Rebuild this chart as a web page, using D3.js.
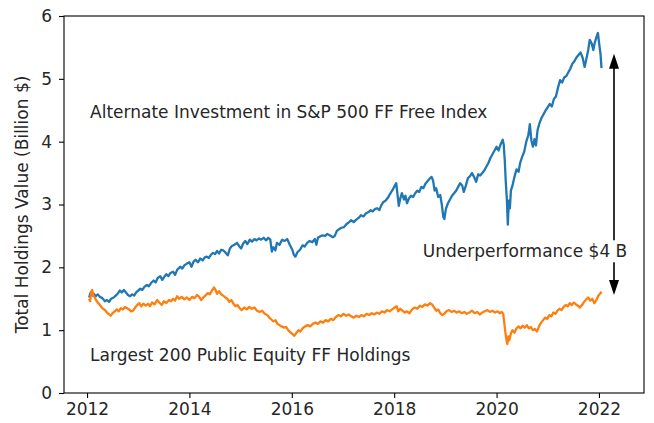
<!DOCTYPE html>
<html><head><meta charset="utf-8">
<script src="https://cdn.jsdelivr.net/npm/d3@7"></script>
<style>
html,body{margin:0;padding:0;background:#fff;}
svg text{font-family:"DejaVu Sans",sans-serif;fill:#262626;}
</style></head>
<body><svg id="c" width="654" height="423"></svg>
<script>
const xTicks = [2012, 2014, 2016, 2018, 2020, 2022];
const yTicks = [0, 1, 2, 3, 4, 5, 6];
const yLabel = "Total Holdings Value (Billion $)";
const seriesNames = ["Alternate Investment in S&P 500 FF Free Index", "Largest 200 Public Equity FF Holdings"];
const gapLabel = "Underperformance $4 B";

const blueYears = [2012.04,2012.07,2012.10,2012.13,2012.17,2012.21,2012.25,2012.30,2012.35,2012.39,2012.43,2012.47,2012.52,2012.56,2012.60,2012.64,2012.68,2012.72,2012.76,2012.80,2012.84,2012.88,2012.92,2012.96,2013.00,2013.04,2013.08,2013.12,2013.17,2013.21,2013.25,2013.30,2013.34,2013.38,2013.43,2013.47,2013.51,2013.55,2013.59,2013.63,2013.68,2013.72,2013.76,2013.82,2013.86,2013.90,2013.95,2014.00,2014.04,2014.08,2014.12,2014.17,2014.21,2014.26,2014.30,2014.34,2014.38,2014.42,2014.46,2014.50,2014.54,2014.58,2014.62,2014.66,2014.70,2014.75,2014.79,2014.83,2014.88,2014.93,2014.97,2015.01,2015.05,2015.09,2015.13,2015.18,2015.22,2015.27,2015.31,2015.36,2015.40,2015.45,2015.50,2015.54,2015.58,2015.61,2015.64,2015.68,2015.71,2015.76,2015.81,2015.86,2015.91,2015.96,2016.01,2016.04,2016.07,2016.11,2016.16,2016.21,2016.25,2016.30,2016.35,2016.40,2016.45,2016.48,2016.51,2016.55,2016.60,2016.65,2016.69,2016.74,2016.80,2016.84,2016.88,2016.93,2016.97,2017.02,2017.07,2017.12,2017.16,2017.21,2017.26,2017.31,2017.35,2017.40,2017.45,2017.50,2017.54,2017.58,2017.63,2017.67,2017.71,2017.75,2017.79,2017.83,2017.88,2017.92,2017.96,2018.00,2018.04,2018.07,2018.09,2018.12,2018.15,2018.19,2018.22,2018.25,2018.29,2018.33,2018.37,2018.41,2018.45,2018.49,2018.53,2018.57,2018.61,2018.65,2018.70,2018.73,2018.76,2018.79,2018.82,2018.86,2018.90,2018.93,2018.96,2018.98,2019.01,2019.05,2019.09,2019.13,2019.17,2019.21,2019.25,2019.29,2019.33,2019.36,2019.40,2019.44,2019.48,2019.52,2019.56,2019.60,2019.64,2019.68,2019.72,2019.76,2019.80,2019.84,2019.88,2019.92,2019.96,2020.00,2020.04,2020.08,2020.12,2020.14,2020.16,2020.18,2020.20,2020.22,2020.24,2020.26,2020.28,2020.31,2020.35,2020.39,2020.43,2020.46,2020.50,2020.54,2020.58,2020.62,2020.65,2020.68,2020.71,2020.74,2020.77,2020.80,2020.84,2020.88,2020.92,2020.96,2021.00,2021.04,2021.08,2021.12,2021.16,2021.20,2021.24,2021.28,2021.32,2021.36,2021.40,2021.44,2021.48,2021.52,2021.56,2021.60,2021.64,2021.68,2021.72,2021.75,2021.79,2021.82,2021.86,2021.89,2021.92,2021.95,2021.98,2022.01,2022.03,2022.05];
const blueValues = [1.52,1.60,1.55,1.58,1.54,1.57,1.53,1.51,1.46,1.48,1.45,1.50,1.52,1.55,1.58,1.63,1.60,1.64,1.60,1.56,1.54,1.57,1.55,1.60,1.63,1.66,1.64,1.69,1.72,1.70,1.75,1.79,1.76,1.83,1.86,1.80,1.85,1.89,1.86,1.91,1.93,1.88,1.96,2.01,1.98,2.03,2.06,2.08,2.01,2.09,2.12,2.08,2.14,2.11,2.16,2.17,2.15,2.20,2.23,2.21,2.26,2.22,2.28,2.27,2.24,2.19,2.30,2.34,2.36,2.39,2.34,2.30,2.38,2.42,2.37,2.44,2.41,2.45,2.43,2.46,2.44,2.47,2.43,2.47,2.44,2.25,2.32,2.27,2.39,2.36,2.44,2.42,2.45,2.36,2.28,2.20,2.17,2.24,2.28,2.35,2.33,2.39,2.42,2.40,2.45,2.36,2.47,2.49,2.51,2.50,2.53,2.51,2.48,2.50,2.58,2.61,2.63,2.64,2.69,2.72,2.75,2.72,2.76,2.79,2.83,2.81,2.86,2.88,2.91,2.89,2.93,2.94,2.91,2.99,3.04,3.06,3.11,3.17,3.22,3.28,3.34,3.12,2.98,3.10,3.18,3.08,3.14,3.02,3.10,3.14,3.12,3.18,3.22,3.20,3.28,3.26,3.33,3.37,3.42,3.44,3.38,3.22,3.26,3.12,3.15,3.00,2.80,2.77,2.93,3.02,3.08,3.14,3.18,3.22,3.28,3.34,3.30,3.20,3.30,3.42,3.45,3.50,3.44,3.36,3.48,3.46,3.50,3.54,3.60,3.66,3.74,3.80,3.86,3.92,3.86,3.96,4.03,3.95,3.70,3.36,3.10,2.68,3.06,2.94,3.22,3.30,3.44,3.56,3.52,3.66,3.76,3.84,4.00,4.10,4.28,4.02,3.92,4.04,3.94,4.18,4.30,4.38,4.44,4.50,4.55,4.60,4.56,4.68,4.72,4.86,4.98,4.94,5.02,5.04,5.10,5.16,5.24,5.28,5.34,5.38,5.42,5.34,5.19,5.30,5.46,5.62,5.56,5.46,5.58,5.66,5.73,5.52,5.40,5.17];

const orangeYears = [2012.04,2012.06,2012.08,2012.10,2012.12,2012.15,2012.19,2012.23,2012.27,2012.31,2012.35,2012.39,2012.43,2012.46,2012.50,2012.54,2012.58,2012.62,2012.66,2012.70,2012.74,2012.78,2012.82,2012.86,2012.90,2012.94,2012.98,2013.02,2013.06,2013.10,2013.15,2013.19,2013.23,2013.27,2013.32,2013.37,2013.41,2013.46,2013.50,2013.55,2013.60,2013.64,2013.68,2013.72,2013.76,2013.80,2013.85,2013.90,2013.95,2014.00,2014.05,2014.10,2014.15,2014.19,2014.23,2014.27,2014.31,2014.36,2014.40,2014.44,2014.48,2014.51,2014.54,2014.58,2014.62,2014.66,2014.70,2014.74,2014.78,2014.82,2014.86,2014.90,2014.94,2014.98,2015.02,2015.07,2015.12,2015.17,2015.22,2015.27,2015.32,2015.37,2015.42,2015.47,2015.52,2015.56,2015.60,2015.64,2015.68,2015.72,2015.76,2015.80,2015.85,2015.89,2015.93,2015.97,2016.01,2016.05,2016.09,2016.13,2016.17,2016.21,2016.26,2016.31,2016.36,2016.41,2016.46,2016.51,2016.56,2016.61,2016.66,2016.71,2016.76,2016.81,2016.86,2016.91,2016.96,2017.01,2017.06,2017.11,2017.16,2017.21,2017.26,2017.31,2017.36,2017.41,2017.46,2017.51,2017.56,2017.61,2017.66,2017.71,2017.76,2017.81,2017.86,2017.91,2017.96,2018.01,2018.05,2018.08,2018.12,2018.16,2018.21,2018.25,2018.30,2018.35,2018.40,2018.45,2018.50,2018.55,2018.60,2018.65,2018.70,2018.74,2018.78,2018.82,2018.86,2018.90,2018.94,2018.98,2019.02,2019.07,2019.12,2019.17,2019.22,2019.27,2019.32,2019.37,2019.42,2019.47,2019.52,2019.57,2019.62,2019.67,2019.72,2019.77,2019.82,2019.87,2019.92,2019.97,2020.02,2020.06,2020.10,2020.13,2020.15,2020.17,2020.19,2020.21,2020.23,2020.25,2020.28,2020.31,2020.35,2020.39,2020.43,2020.47,2020.51,2020.55,2020.59,2020.63,2020.67,2020.71,2020.75,2020.79,2020.83,2020.87,2020.91,2020.95,2020.99,2021.03,2021.07,2021.11,2021.15,2021.19,2021.23,2021.27,2021.31,2021.35,2021.39,2021.43,2021.47,2021.51,2021.55,2021.59,2021.63,2021.67,2021.71,2021.75,2021.79,2021.83,2021.87,2021.91,2021.95,2021.99,2022.02,2022.05];
const orangeValues = [1.50,1.46,1.60,1.64,1.56,1.52,1.46,1.42,1.38,1.34,1.32,1.28,1.25,1.23,1.27,1.30,1.33,1.30,1.35,1.33,1.37,1.35,1.33,1.30,1.31,1.36,1.40,1.43,1.38,1.42,1.39,1.42,1.38,1.44,1.41,1.48,1.44,1.40,1.46,1.43,1.48,1.46,1.50,1.47,1.54,1.50,1.53,1.49,1.52,1.48,1.53,1.51,1.56,1.53,1.48,1.52,1.55,1.59,1.57,1.63,1.68,1.64,1.58,1.62,1.57,1.55,1.52,1.50,1.45,1.48,1.42,1.38,1.40,1.35,1.32,1.36,1.33,1.37,1.34,1.36,1.31,1.29,1.31,1.26,1.24,1.20,1.17,1.14,1.16,1.10,1.08,1.06,1.04,1.05,1.00,0.97,0.94,0.91,0.96,1.00,0.98,1.03,1.06,1.08,1.06,1.10,1.12,1.10,1.14,1.12,1.16,1.14,1.18,1.16,1.21,1.24,1.22,1.26,1.23,1.25,1.22,1.20,1.23,1.21,1.24,1.22,1.26,1.24,1.27,1.25,1.28,1.26,1.30,1.28,1.32,1.30,1.33,1.36,1.38,1.30,1.34,1.31,1.28,1.30,1.27,1.33,1.36,1.34,1.39,1.37,1.41,1.39,1.43,1.41,1.36,1.31,1.33,1.27,1.24,1.26,1.30,1.32,1.29,1.31,1.28,1.30,1.27,1.29,1.26,1.28,1.31,1.27,1.29,1.25,1.28,1.30,1.32,1.29,1.31,1.28,1.30,1.27,1.29,1.26,1.12,0.98,0.86,0.78,0.90,0.84,0.95,1.00,0.96,1.03,1.06,1.03,1.07,1.04,1.08,1.03,1.05,1.00,1.02,0.98,1.06,1.12,1.16,1.20,1.18,1.24,1.22,1.28,1.26,1.31,1.34,1.32,1.37,1.40,1.38,1.43,1.40,1.44,1.41,1.39,1.36,1.40,1.45,1.49,1.52,1.47,1.50,1.43,1.48,1.55,1.58,1.61];

// annotation anchors in data units
const labelAnchors = [[2012.06, 4.38], [2012.06, 0.51]];
const gapAnchor = [2018.56, 2.16];
const arrowX = 2022.3, arrowLow = 1.56, arrowHigh = 5.4;

const svg = d3.select("#c");
const M = {l: 64, r: 644, t: 16, b: 393};
const x = d3.scaleLinear().domain([2011.55, 2022.88]).range([M.l, M.r]);
const y = d3.scaleLinear().domain([0, 6]).range([M.b, M.t]);
const FS = 17;

const line = d3.line().x(d => x(d[0])).y(d => y(d[1]));
svg.append("path").datum(d3.zip(blueYears, blueValues))
  .attr("d", line).attr("fill", "none").attr("stroke", "#1f77b4")
  .attr("stroke-width", 2.3).attr("stroke-linejoin", "round");
svg.append("path").datum(d3.zip(orangeYears, orangeValues))
  .attr("d", line).attr("fill", "none").attr("stroke", "#ff7f0e")
  .attr("stroke-width", 2.3).attr("stroke-linejoin", "round");

// series labels
labelAnchors.forEach((a, i) => {
  svg.append("text").attr("x", x(a[0])).attr("y", y(a[1]))
    .attr("font-size", FS).text(seriesNames[i]);
});

// arrow
const ax = Math.round(x(arrowX));
const yTop = y(arrowHigh), yBot = y(arrowLow);
const hl = 15, hw = 5;
svg.append("line").attr("x1", ax).attr("x2", ax).attr("y1", yTop + hl - 2).attr("y2", yBot - hl + 2)
  .attr("stroke", "#000").attr("stroke-width", 1.6);
svg.append("path").attr("d", `M${ax},${yTop} L${ax-hw},${yTop+hl} L${ax+hw},${yTop+hl} Z`).attr("fill", "#000");
svg.append("path").attr("d", `M${ax},${yBot} L${ax-hw},${yBot-hl} L${ax+hw},${yBot-hl} Z`).attr("fill", "#000");

// gap label with white box
const gt = svg.append("text").attr("x", x(gapAnchor[0])).attr("y", y(gapAnchor[1]))
  .attr("font-size", FS).text(gapLabel);
const bb = gt.node().getBBox();
svg.insert("rect", "text:last-of-type").attr("x", bb.x - 2).attr("y", bb.y - 1)
  .attr("width", bb.width + 4).attr("height", bb.height + 2).attr("fill", "#fff");
gt.raise();

// axes
const xAxis = svg.append("g").attr("transform", `translate(0,${M.b})`)
  .call(d3.axisBottom(x).tickValues(xTicks).tickFormat(d3.format("d")).tickSize(5).tickPadding(5));
const yAxis = svg.append("g").attr("transform", `translate(${M.l},0)`)
  .call(d3.axisLeft(y).tickValues(yTicks).tickFormat(d3.format("d")).tickSize(5).tickPadding(7));
[xAxis, yAxis].forEach(g => {
  g.selectAll("text").attr("font-size", FS).attr("font-family", "DejaVu Sans").attr("fill", "#262626");
  g.selectAll("line").attr("stroke", "#000").attr("stroke-width", 1.1);
  g.select(".domain").remove();
});
svg.append("rect").attr("x", M.l).attr("y", M.t).attr("width", M.r - M.l).attr("height", M.b - M.t)
  .attr("fill", "none").attr("stroke", "#000").attr("stroke-width", 1.1);

svg.append("text").attr("transform", `translate(28,${(M.t + M.b) / 2}) rotate(-90)`)
  .attr("text-anchor", "middle").attr("font-size", FS).text(yLabel);
</script></body></html>
